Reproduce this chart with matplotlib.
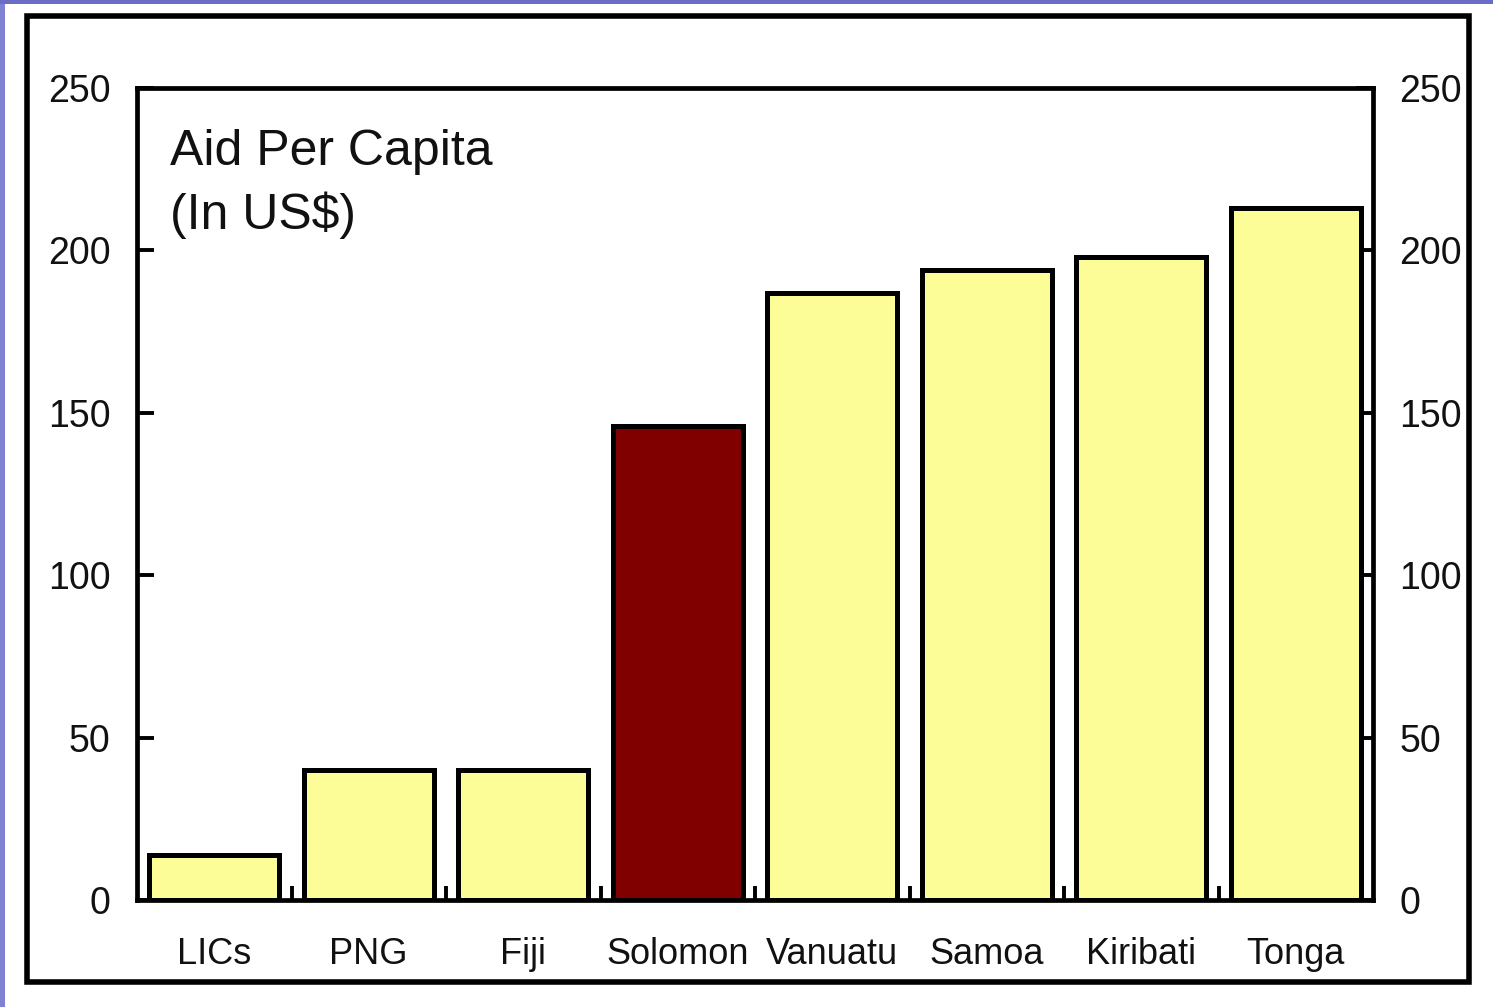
import matplotlib
matplotlib.use("Agg")
import matplotlib.pyplot as plt
from matplotlib.patches import Rectangle
import numpy as np

# Aid per capita, US$
countries = ["LICs", "PNG", "Fiji", "Solomon", "Vanuatu", "Samoa", "Kiribati", "Tonga"]
aid_per_capita = [14, 40, 40, 146, 187, 194, 198, 213]
highlight = "Solomon"
y_ticks = [0, 50, 100, 150, 200, 250]

YELLOW = "#fdfd98"
MAROON = "#800000"
INK = "#111111"

plt.rcParams["font.family"] = ["Liberation Sans", "DejaVu Sans"]

fig = plt.figure(figsize=(14.93, 10.07), dpi=100)
fig.patch.set_facecolor("white")

# slide background peeking in at left and top edges
fig.patches.append(Rectangle((0, 0), 5 / 1493, 1, transform=fig.transFigure,
                             facecolor="#7f82d2", edgecolor="none", zorder=0))
fig.patches.append(Rectangle((0, 1 - 4 / 1007), 1, 4 / 1007, transform=fig.transFigure,
                             facecolor="#6a6cc6", edgecolor="none", zorder=0))
# black frame around the chart
fig.patches.append(Rectangle((26.5 / 1493, 1 - 982 / 1007), (1469 - 26.5) / 1493,
                             (982 - 15.5) / 1007, transform=fig.transFigure,
                             facecolor="none", edgecolor="black", linewidth=4.0, zorder=1))

ax = fig.add_axes([137 / 1493, 1 - 900 / 1007, (1373 - 137) / 1493, (900 - 88) / 1007])
ax.set_facecolor("white")

x = np.arange(len(countries))
colors = [MAROON if c == highlight else YELLOW for c in countries]
ax.bar(x, aid_per_capita, width=0.84, color=colors, edgecolor="black",
       linewidth=3.6, zorder=2)

ax.set_xlim(-0.5, len(countries) - 0.5)
ax.set_ylim(0, 250)
ax.set_yticks(y_ticks)
ax.set_yticklabels([str(v) for v in y_ticks])
ax.set_xticks(x)
ax.set_xticklabels(countries)
ax.set_xticks(x[:-1] + 0.5, minor=True)

for s in ax.spines.values():
    s.set_linewidth(3.4)
    s.set_color("black")

ax.tick_params(axis="y", which="major", direction="in", length=12, width=2.8,
               left=True, right=True, labelleft=True, labelright=True,
               labelsize=27, labelcolor=INK, pad=19)
ax.tick_params(axis="x", which="major", length=0, labelsize=26,
               labelcolor=INK, pad=27)
ax.tick_params(axis="x", which="minor", direction="in", length=10, width=2.8)

ax.text(0.027, 0.95, "Aid Per Capita\n(In US$)", transform=ax.transAxes,
        ha="left", va="top", fontsize=36, color=INK, linespacing=1.45)

fig.savefig("out.png", dpi=100, facecolor="white")
